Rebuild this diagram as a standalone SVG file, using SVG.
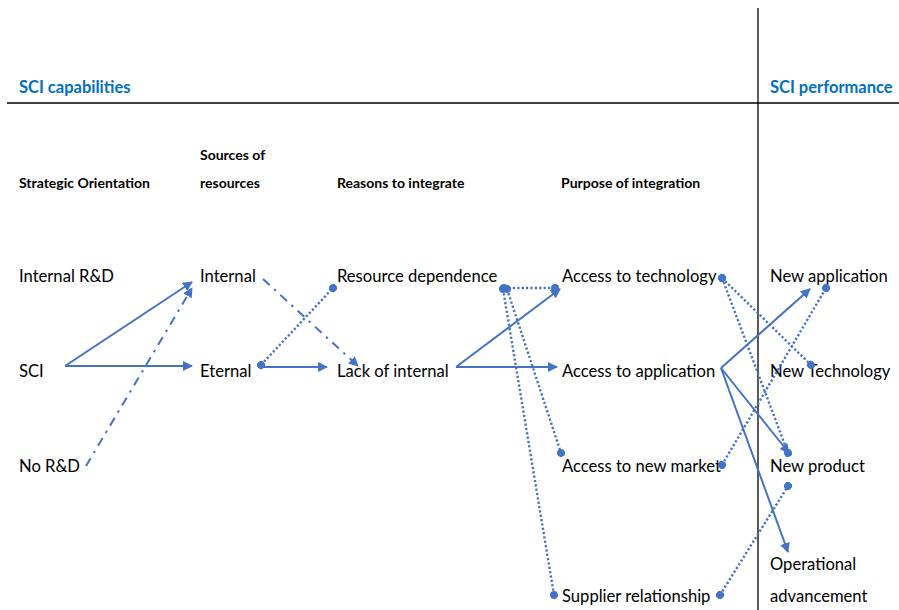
<svg xmlns="http://www.w3.org/2000/svg" width="899" height="610" viewBox="0 0 899 610">
  <style>
    .title { font-family: Lato, "Liberation Sans", sans-serif; font-size: 16.5px; font-weight: bold; fill: #0070C0; }
    .head { font-family: Lato, "Liberation Sans", sans-serif; font-size: 14px; font-weight: bold; fill: #000; }
    .lbl { font-family: Lato, "Liberation Sans", sans-serif; font-size: 16.6px; fill: #000; }
    .rule { stroke: #000; stroke-width: 1.3; fill: none; }
    .c { stroke: #4472C4; stroke-width: 2; fill: none; }
    .dot { stroke-dasharray: 2.2 2.2; stroke-width: 2.4; }
    .dashdot { stroke-dasharray: 9 6 2.5 6; }
  </style>
  <defs>
    <marker id="arrow" viewBox="0 0 10 10" refX="9" refY="5" markerWidth="5" markerHeight="5" orient="auto" markerUnits="strokeWidth">
      <path d="M0,0 L10,5 L0,10 z" fill="#4472C4"/>
    </marker>
    <marker id="oval" viewBox="0 0 10 10" refX="5" refY="5" markerWidth="8" markerHeight="8" orient="auto" markerUnits="userSpaceOnUse">
      <circle cx="5" cy="5" r="5" fill="#4472C4"/>
    </marker>
  </defs>
  <rect width="899" height="610" fill="#fff"/>

  <!-- frame lines -->
  <line class="rule" x1="7" y1="103" x2="899" y2="103"/>
  <line class="rule" x1="758" y1="8" x2="758" y2="610"/>

  <!-- section titles -->
  <text class="title" x="19" y="93">SCI capabilities</text>
  <text class="title" x="770" y="93">SCI performance</text>

  <!-- column headings -->
  <text class="head" x="19" y="188">Strategic Orientation</text>
  <text class="head" x="200" y="160">Sources of</text>
  <text class="head" x="200" y="188">resources</text>
  <text class="head" x="337" y="188">Reasons to integrate</text>
  <text class="head" x="561" y="188">Purpose of integration</text>

  <!-- nodes -->
  <g id="internal-rd"><text class="lbl" x="19" y="282">Internal R&amp;D</text></g>
  <g id="sci"><text class="lbl" x="19" y="377">SCI</text></g>
  <g id="no-rd"><text class="lbl" x="19" y="472">No R&amp;D</text></g>
  <g id="internal"><text class="lbl" x="200" y="282">Internal</text></g>
  <g id="eternal"><text class="lbl" x="200" y="377">Eternal</text></g>
  <g id="resource-dependence"><text class="lbl" x="337" y="282">Resource dependence</text></g>
  <g id="lack-of-internal"><text class="lbl" x="337" y="377">Lack of internal</text></g>
  <g id="access-technology"><text class="lbl" x="562" y="282">Access to technology</text></g>
  <g id="access-application"><text class="lbl" x="562" y="377">Access to application</text></g>
  <g id="access-market"><text class="lbl" x="562" y="472">Access to new market</text></g>
  <g id="supplier-relationship"><text class="lbl" x="562" y="602">Supplier relationship</text></g>
  <g id="new-application"><text class="lbl" x="770" y="282">New application</text></g>
  <g id="new-technology"><text class="lbl" x="770" y="377">New Technology</text></g>
  <g id="new-product"><text class="lbl" x="770" y="472">New product</text></g>
  <g id="operational-advancement">
    <text class="lbl" x="770" y="570">Operational</text>
    <text class="lbl" x="770" y="602">advancement</text>
  </g>

  <!-- connectors -->
  <g id="connectors">
    <line class="c" x1="65" y1="366" x2="192" y2="282" marker-end="url(#arrow)"/>
    <line class="c" x1="65" y1="366" x2="192" y2="366" marker-end="url(#arrow)"/>
    <line class="c dashdot" x1="86" y1="466" x2="192" y2="288" marker-end="url(#arrow)"/>
    <line class="c dashdot" x1="263" y1="279" x2="358" y2="366" marker-end="url(#arrow)"/>
    <line class="c dot" x1="261" y1="365" x2="333" y2="288" marker-start="url(#oval)" marker-end="url(#oval)"/>
    <line class="c" x1="261" y1="367" x2="327" y2="367" marker-end="url(#arrow)"/>
    <line class="c" x1="456" y1="367" x2="557" y2="367" marker-end="url(#arrow)"/>
    <line class="c" x1="456" y1="367" x2="560" y2="289" marker-end="url(#arrow)"/>
    <line class="c dot" x1="504" y1="288" x2="555" y2="288" marker-start="url(#oval)" marker-end="url(#oval)"/>
    <line class="c dot" x1="507" y1="289" x2="561" y2="453" marker-start="url(#oval)" marker-end="url(#oval)"/>
    <line class="c dot" x1="503" y1="289" x2="554" y2="595" marker-start="url(#oval)" marker-end="url(#oval)"/>
    <line class="c dot" x1="722" y1="278" x2="811" y2="365" marker-start="url(#oval)" marker-end="url(#oval)"/>
    <line class="c dot" x1="722" y1="278" x2="788" y2="453" marker-start="url(#oval)" marker-end="url(#oval)"/>
    <line class="c" x1="721" y1="368" x2="810" y2="289" marker-end="url(#arrow)"/>
    <line class="c" x1="721" y1="368" x2="789" y2="453" marker-end="url(#arrow)"/>
    <line class="c" x1="721" y1="368" x2="788" y2="552" marker-end="url(#arrow)"/>
    <line class="c dot" x1="722" y1="465" x2="826" y2="288" marker-start="url(#oval)" marker-end="url(#oval)"/>
    <line class="c dot" x1="720" y1="595" x2="788" y2="486" marker-start="url(#oval)" marker-end="url(#oval)"/>
  </g>
</svg>
